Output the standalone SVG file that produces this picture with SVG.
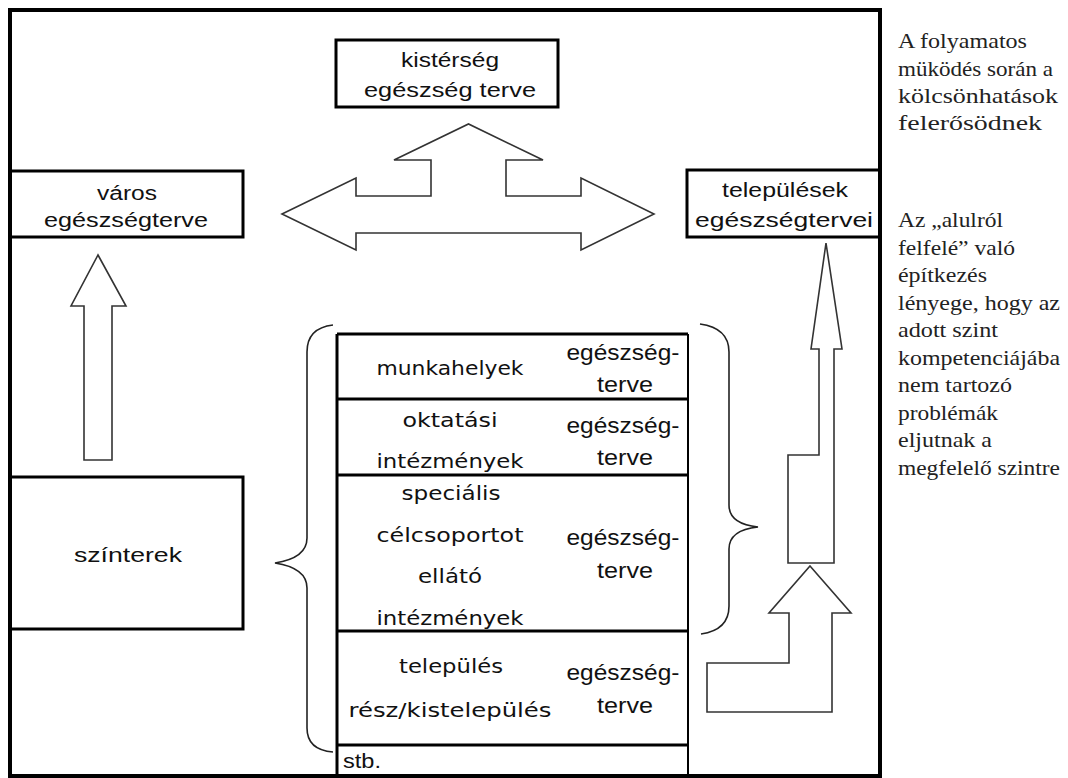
<svg xmlns="http://www.w3.org/2000/svg" width="1068" height="778" viewBox="0 0 1068 778">
<style>
.box{fill:none;stroke:#000;stroke-width:3}
.thin{fill:none;stroke:#000;stroke-width:2}
.arrow{fill:#fff;stroke:#333;stroke-width:1.6;stroke-linejoin:miter}
.brace{fill:none;stroke:#222;stroke-width:1.6}
.lbl{font-size:20px;fill:#111;text-anchor:middle}
.plan{font-size:22px;fill:#111;text-anchor:middle}
.comic{font-size:20px;fill:#111;text-anchor:middle}
.note{font-size:22px;fill:#222}
</style>
<rect width="1068" height="778" fill="#fff"/>

<g id="frame">
<rect x="10" y="10" width="870" height="766" fill="none" stroke="#000" stroke-width="4"/>
</g>

<g id="kisterseg" font-family="Liberation Sans, Arial, sans-serif">
<rect class="box" x="336" y="40" width="222" height="67"/>
<text class="lbl" x="450" y="67" textLength="98" lengthAdjust="spacingAndGlyphs">kistérség</text>
<text class="lbl" x="450" y="97" textLength="172" lengthAdjust="spacingAndGlyphs">egészség terve</text>
</g>

<g id="varos" font-family="Liberation Sans, Arial, sans-serif">
<path class="box" d="M10 171 H243 V237 H10"/>
<text class="lbl" x="127" y="200" textLength="60" lengthAdjust="spacingAndGlyphs">város</text>
<text class="lbl" x="126" y="227" textLength="164" lengthAdjust="spacingAndGlyphs">egészségterve</text>
</g>

<g id="telepulesek" font-family="Liberation Sans, Arial, sans-serif">
<path class="box" d="M880 170 H687 V237 H880"/>
<text class="lbl" x="785" y="197" textLength="126" lengthAdjust="spacingAndGlyphs">települések</text>
<text class="lbl" x="784" y="227" textLength="178" lengthAdjust="spacingAndGlyphs">egészségtervei</text>
</g>

<g id="szinterek" font-family="Liberation Sans, Arial, sans-serif">
<path class="box" d="M10 477 H243 V629 H10"/>
<text class="lbl" x="128" y="562" textLength="108" lengthAdjust="spacingAndGlyphs">színterek</text>
</g>

<g id="table">
<path class="box" d="M337 334 H688 M337 399 H688 M337 475 H688 M337 631 H688 M337 745 H688 M337 334 V776"/>
<path class="thin" d="M688 334 V776"/>
<g font-family="DejaVu Sans, sans-serif">
<text class="comic" x="450" y="375" textLength="147" lengthAdjust="spacingAndGlyphs">munkahelyek</text>
<text class="comic" x="450" y="427" textLength="95" lengthAdjust="spacingAndGlyphs">oktatási</text>
<text class="comic" x="450" y="468" textLength="147" lengthAdjust="spacingAndGlyphs">intézmények</text>
<text class="comic" x="451" y="500" textLength="99" lengthAdjust="spacingAndGlyphs">speciális</text>
<text class="comic" x="450" y="542" textLength="147" lengthAdjust="spacingAndGlyphs">célcsoportot</text>
<text class="comic" x="450" y="583" textLength="64" lengthAdjust="spacingAndGlyphs">ellátó</text>
<text class="comic" x="450" y="625" textLength="147" lengthAdjust="spacingAndGlyphs">intézmények</text>
<text class="comic" x="451" y="673" textLength="104" lengthAdjust="spacingAndGlyphs">település</text>
<text class="comic" x="450" y="717" textLength="203" lengthAdjust="spacingAndGlyphs">rész/kistelepülés</text>
</g>
<g font-family="Liberation Sans, Arial, sans-serif">
<text class="plan" x="623" y="360" textLength="113" lengthAdjust="spacingAndGlyphs">egészség-</text>
<text class="plan" x="625" y="392" textLength="56" lengthAdjust="spacingAndGlyphs">terve</text>
<text class="plan" x="623" y="433" textLength="113" lengthAdjust="spacingAndGlyphs">egészség-</text>
<text class="plan" x="625" y="465" textLength="56" lengthAdjust="spacingAndGlyphs">terve</text>
<text class="plan" x="623" y="545" textLength="113" lengthAdjust="spacingAndGlyphs">egészség-</text>
<text class="plan" x="625" y="578" textLength="56" lengthAdjust="spacingAndGlyphs">terve</text>
<text class="plan" x="623" y="680" textLength="113" lengthAdjust="spacingAndGlyphs">egészség-</text>
<text class="plan" x="625" y="713" textLength="56" lengthAdjust="spacingAndGlyphs">terve</text>
<text x="343" y="768" font-size="20" fill="#111" textLength="38" lengthAdjust="spacingAndGlyphs">stb.</text>
</g>
</g>

<g id="notes" font-family="Liberation Serif, Times New Roman, serif">
<text class="note" x="898" y="48" textLength="129" lengthAdjust="spacingAndGlyphs">A folyamatos</text>
<text class="note" x="898" y="76" textLength="155" lengthAdjust="spacingAndGlyphs">müködés során a</text>
<text class="note" x="898" y="103" textLength="160" lengthAdjust="spacingAndGlyphs">kölcsönhatások</text>
<text class="note" x="898" y="130" textLength="144" lengthAdjust="spacingAndGlyphs">felerősödnek</text>

<text class="note" x="898" y="227" textLength="105" lengthAdjust="spacingAndGlyphs">Az „alulról</text>
<text class="note" x="898" y="254.5" textLength="117" lengthAdjust="spacingAndGlyphs">felfelé” való</text>
<text class="note" x="898" y="282" textLength="89" lengthAdjust="spacingAndGlyphs">építkezés</text>
<text class="note" x="898" y="309.5" textLength="162" lengthAdjust="spacingAndGlyphs">lényege, hogy az</text>
<text class="note" x="898" y="337" textLength="100" lengthAdjust="spacingAndGlyphs">adott szint</text>
<text class="note" x="898" y="364.5" textLength="162" lengthAdjust="spacingAndGlyphs">kompetenciájába</text>
<text class="note" x="898" y="392" textLength="114" lengthAdjust="spacingAndGlyphs">nem tartozó</text>
<text class="note" x="898" y="419.5" textLength="100" lengthAdjust="spacingAndGlyphs">problémák</text>
<text class="note" x="898" y="447" textLength="94" lengthAdjust="spacingAndGlyphs">eljutnak a</text>
<text class="note" x="898" y="474.5" textLength="162" lengthAdjust="spacingAndGlyphs">megfelelő szintre</text>
</g>

<g id="connectors">
<polygon class="arrow" points="282,214 356,178 356,196 431,196 431,160 394,160 468.5,124 543,160 506,160 506,196 581,196 581,178 654,214 581,250 581,233 356,233 356,250"/>
<polygon class="arrow" points="98,255 126,306 112,306 112,460 84,460 84,306 71,306"/>
<polygon class="arrow" points="826,243 842,349 834,349 834,563 788,563 788,455 819,455 819,349 811,349"/>
<polygon class="arrow" points="810,566 851,613 832,613 832,712 707,712 707,663 789,663 789,613 769,613"/>
<path class="brace" d="M333 325 Q307 328 307 352 V538 Q307 558 275 563 Q307 568 307 588 V728 Q307 750 333 752"/>
<path class="brace" d="M700 324 Q729 328 729 352 V505 Q729 524 758 527 Q729 530 729 549 V606 Q729 630 701 634"/>
</g>
</svg>
